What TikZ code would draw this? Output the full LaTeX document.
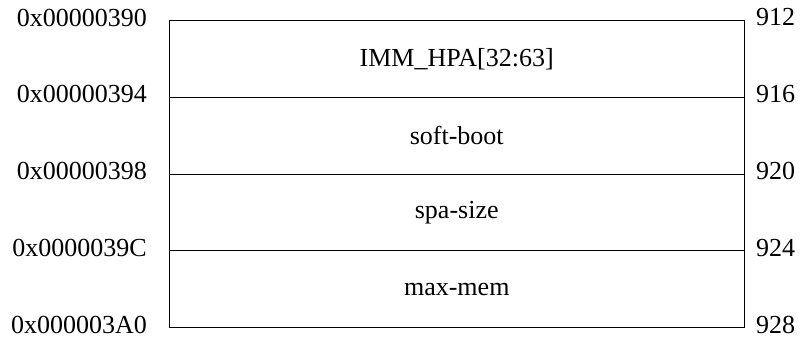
\documentclass[tikz,border=0pt]{standalone}
\usepackage{fontspec}
\setmainfont{Liberation Serif}
\begin{document}
\begin{tikzpicture}[x=1pt,y=-1pt,
  txt/.style={font=\fontsize{26}{30}\selectfont},
  row/.style={txt, draw, line width=0.8pt, minimum width=575.5pt, minimum height=76.75pt, inner sep=0pt},
  laddr/.style={txt, anchor=east, inner sep=0pt},
  raddr/.style={txt, anchor=west, inner sep=0pt}]
\useasboundingbox (0,0) rectangle (801,339);
\node[row] (r1) at (456.75,58.9) {IMM\_HPA[32:63]};
\node[row] (r2) at (456.75,135.65) {soft-boot};
\node[row] (r3) at (456.75,212.4) {spa-size};
\node[row] (r4) at (456.75,289.15) {max-mem};
\node[laddr] (l1) at (147,17.5) {0x00000390};
\node[laddr] (l2) at (147,94.3) {0x00000394};
\node[laddr] (l3) at (147,171) {0x00000398};
\node[laddr] (l4) at (147,247.8) {0x0000039C};
\node[laddr] (l5) at (147,324.5) {0x000003A0};
\node[raddr] (d1) at (756,17.5) {912};
\node[raddr] (d2) at (756,94.3) {916};
\node[raddr] (d3) at (756,171) {920};
\node[raddr] (d4) at (756,247.8) {924};
\node[raddr] (d5) at (756,324.5) {928};
\end{tikzpicture}
\end{document}
